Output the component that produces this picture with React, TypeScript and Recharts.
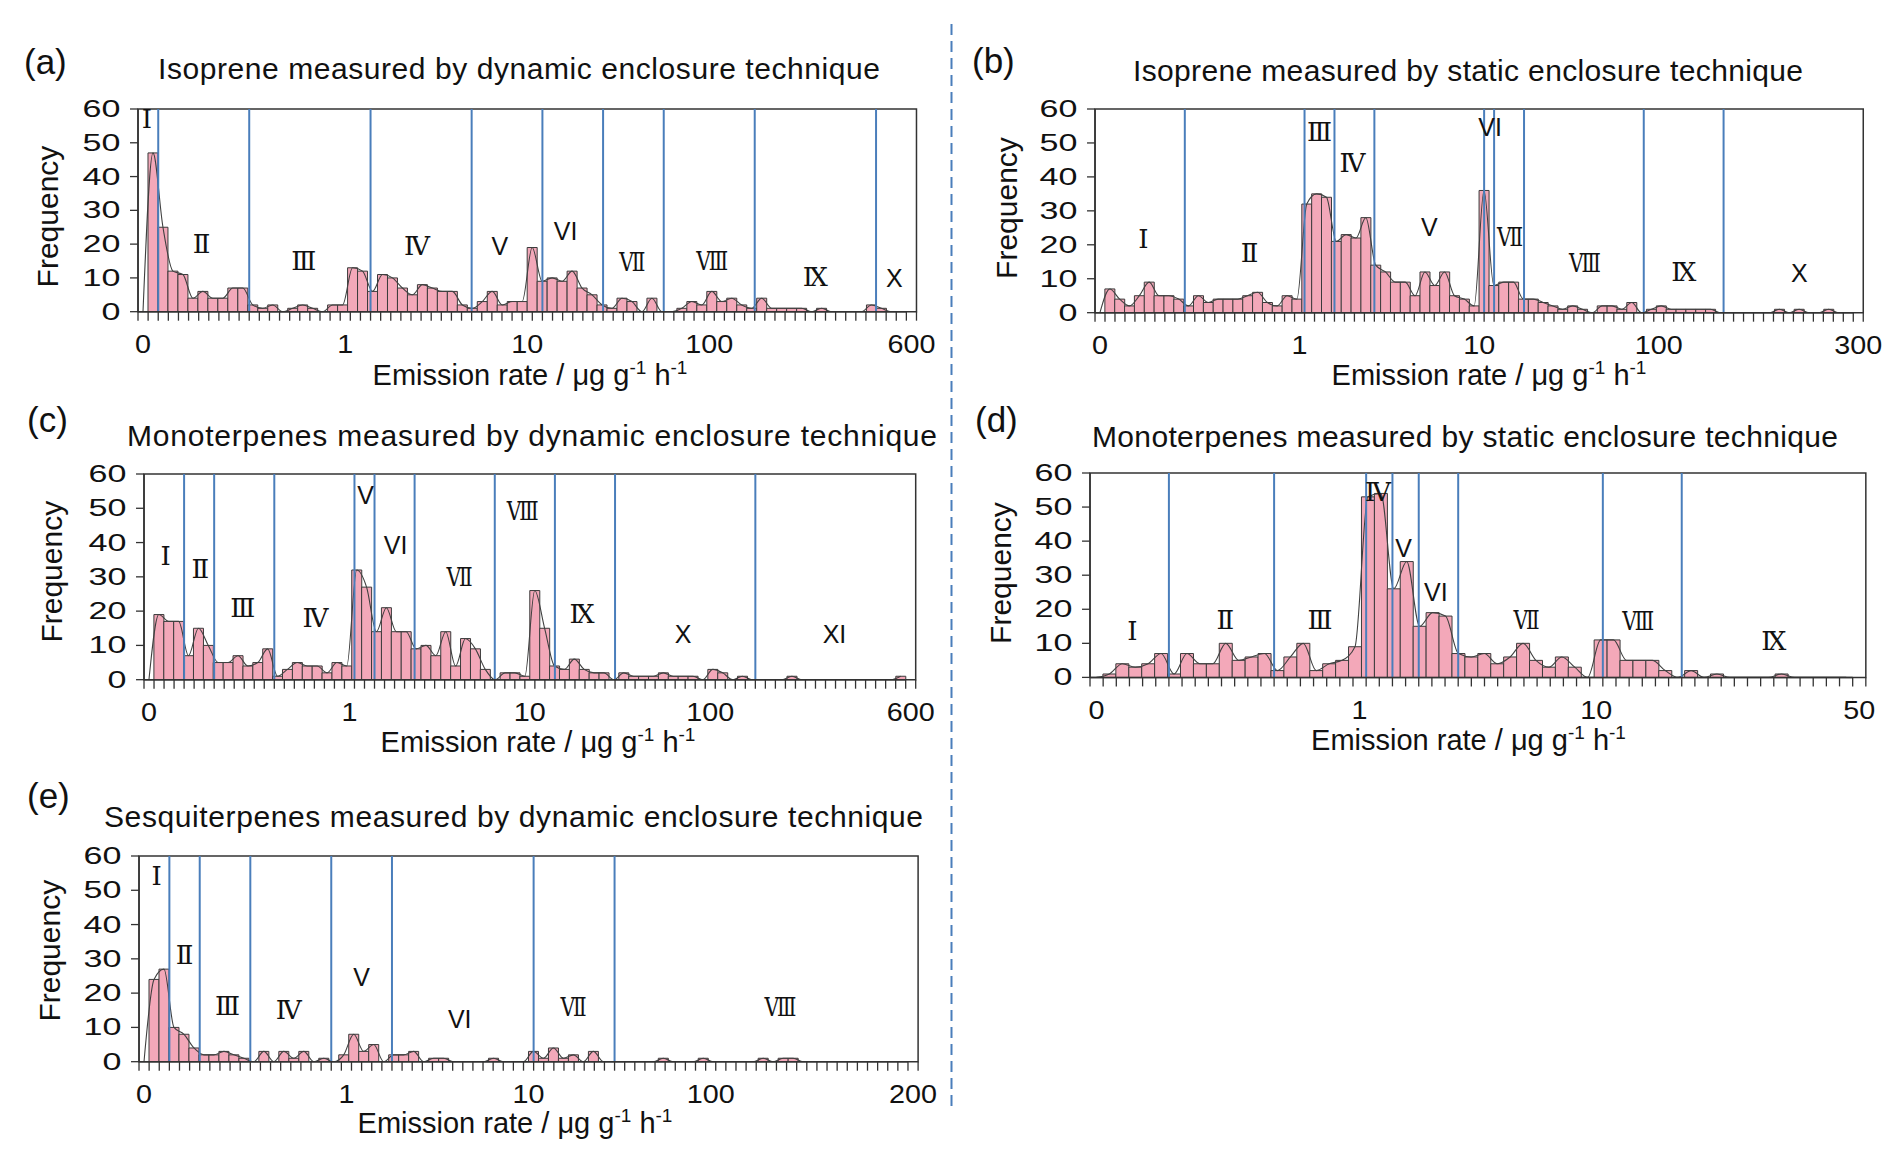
import React from 'react';
import {
  ComposedChart,
  Bar,
  Line,
  XAxis,
  YAxis,
  ReferenceLine,
  ReferenceDot,
  ReferenceArea,
} from 'recharts';

const FONT = '"Liberation Sans", Arial, sans-serif';
const SERIF = '"DejaVu Serif", "Liberation Serif", serif';
const INK = '#111';
const FRAME = '#333';
const BLUE = '#4A7EBB';
const PINK = '#F3A8B9';

// ---------- data: frequencies per bin ----------
const freqA = [0, 47, 25, 12, 11, 4, 6, 4, 4, 7, 7, 2, 1, 2, 0, 1, 2, 1, 0, 2, 2, 13, 12, 6, 11, 10, 7, 5, 8, 7, 6, 6, 2, 1, 3, 6, 2, 3, 3, 19, 9, 10, 9, 12, 7, 5, 2, 1, 4, 3, 0, 4, 0, 0, 1, 3, 2, 6, 3, 4, 2, 1, 4, 1, 1, 1, 1, 0, 1, 0, 0, 0, 0, 2, 1, 0, 0];
const freqB = [0, 7, 4, 2, 5, 9, 5, 5, 4, 2, 5, 3, 4, 4, 4, 5, 6, 3, 2, 5, 4, 32, 35, 34, 21, 23, 22, 28, 14, 12, 9, 9, 5, 12, 8, 12, 5, 4, 2, 36, 8, 9, 9, 4, 4, 3, 2, 1, 2, 1, 0, 2, 2, 1, 3, 0, 1, 2, 1, 1, 1, 1, 1, 0, 0, 0, 0, 0, 0, 1, 0, 1, 0, 0, 1, 0, 0];
const freqC = [0, 19, 17, 17, 7, 15, 10, 5, 5, 7, 4, 5, 9, 1, 3, 5, 4, 4, 2, 5, 4, 32, 27, 14, 21, 14, 14, 9, 10, 7, 14, 4, 12, 9, 3, 0, 2, 2, 1, 26, 15, 4, 3, 6, 3, 2, 2, 0, 2, 1, 1, 1, 2, 1, 1, 1, 0, 3, 2, 0, 1, 0, 0, 0, 0, 1, 0, 0, 0, 0, 0, 0, 0, 0, 0, 0, 1];
const freqD = [0, 1, 4, 3, 4, 7, 1, 7, 4, 4, 10, 5, 6, 7, 2, 6, 10, 2, 4, 5, 9, 53, 54, 26, 34, 15, 19, 18, 7, 6, 7, 4, 6, 10, 5, 3, 6, 3, 0, 11, 11, 5, 5, 5, 2, 0, 2, 0, 1, 0, 0, 0, 0, 1, 0, 0, 0, 0, 0];
const freqE = [0, 24, 27, 10, 8, 4, 2, 2, 3, 2, 1, 0, 3, 0, 3, 1, 3, 0, 1, 0, 2, 8, 3, 5, 0, 2, 2, 3, 0, 1, 1, 0, 0, 0, 0, 1, 0, 0, 0, 3, 1, 4, 1, 2, 0, 3, 0, 0, 0, 0, 0, 0, 1, 0, 0, 0, 1, 0, 0, 0, 0, 0, 1, 0, 1, 1, 0, 0, 0, 0, 0, 0, 0, 0, 0, 0, 0];

// ---------- group boundaries (bin edges) ----------
const groupEdgesA = [2, 11, 23, 33, 40, 46, 52, 61, 73];
const groupEdgesB = [9, 21, 24, 28, 39, 40, 43, 55, 63];
const groupEdgesC = [4, 7, 13, 21, 23, 27, 35, 41, 47, 61];
const groupEdgesD = [6, 14, 21, 23, 25, 28, 39, 45];
const groupEdgesE = [3, 6, 11, 19, 25, 39, 47];

// ---------- group labels (roman numerals) with anchor in data space ----------
const romanA = ['Ⅰ', 'Ⅱ', 'Ⅲ', 'Ⅳ', 'V', 'VI', 'Ⅶ', 'Ⅷ', 'Ⅸ', 'X'];
const romanXA = [0.87, 6.28, 16.4, 27.6, 35.8, 42.3, 48.9, 56.8, 67, 74.8];
const romanYA = [57, 20, 15, 19.4, 19.4, 24, 14.7, 15.2, 10.3, 10];

const romanB = ['Ⅰ', 'Ⅱ', 'Ⅲ', 'Ⅳ', 'V', 'VI', 'Ⅶ', 'Ⅷ', 'Ⅸ', 'X'];
const romanXB = [4.84, 15.5, 22.5, 25.8, 33.5, 39.6, 41.6, 49.1, 59, 70.6];
const romanYB = [21.6, 17.5, 53.3, 44.2, 25.3, 54.6, 22.4, 14.7, 11.9, 11.6];

const romanC = ['Ⅰ', 'Ⅱ', 'Ⅲ', 'Ⅳ', 'V', 'VI', 'Ⅶ', 'Ⅷ', 'Ⅸ', 'X', 'XI'];
const romanXC = [2.16, 5.63, 9.85, 17.1, 22.1, 25.1, 31.5, 37.8, 43.7, 53.8, 68.9];
const romanYC = [36.2, 32.4, 20.9, 18, 54, 39.2, 30.1, 49.3, 19.3, 13.3, 13.3];

const romanD = ['Ⅰ', 'Ⅱ', 'Ⅲ', 'Ⅳ', 'V', 'VI', 'Ⅶ', 'Ⅷ', 'Ⅸ'];
const romanXD = [3.22, 10.3, 17.5, 21.9, 23.85, 26.3, 33.2, 41.7, 52];
const romanYD = [13.7, 16.9, 16.9, 54.4, 38, 25.1, 16.9, 16.6, 10.8];

const romanE = ['Ⅰ', 'Ⅱ', 'Ⅲ', 'Ⅳ', 'V', 'VI', 'Ⅶ', 'Ⅷ'];
const romanXE = [1.74, 4.5, 8.75, 14.8, 22, 31.7, 42.96, 63.4];
const romanYE = [54.2, 31.1, 16.2, 15.1, 24.8, 12.4, 16, 16];

// ---------- x tick labels and the bins they sit under ----------
const xTickTextA = ['0', '1', '10', '100', '600'];
const xTickTextB = ['0', '1', '10', '100', '300'];
const xTickTextC = ['0', '1', '10', '100', '600'];
const xTickTextD = ['0', '1', '10', '50'];
const xTickTextE = ['0', '1', '10', '100', '200'];
const xTickBin77 = [0, 20, 38, 56, 76];
const xTickBinD = [0, 20, 38, 58];

const yTicks = [0, 10, 20, 30, 40, 50, 60];

// ---------- layout ----------
const panels = [
  { values: freqA, edges: groupEdgesA, roman: romanA, rx: romanXA, ry: romanYA, tt: xTickTextA, tb: xTickBin77, box: { left: 138.3, top: 109, width: 768.4, height: 202.7 } },
  { values: freqB, edges: groupEdgesB, roman: romanB, rx: romanXB, ry: romanYB, tt: xTickTextB, tb: xTickBin77, box: { left: 1095, top: 109, width: 758.3, height: 203.7 } },
  { values: freqC, edges: groupEdgesC, roman: romanC, rx: romanXC, ry: romanYC, tt: xTickTextC, tb: xTickBin77, box: { left: 144.3, top: 474.3, width: 761.7, height: 205.7 } },
  { values: freqD, edges: groupEdgesD, roman: romanD, rx: romanXD, ry: romanYD, tt: xTickTextD, tb: xTickBinD, box: { left: 1090, top: 473.3, width: 762.7, height: 204.4 } },
  { values: freqE, edges: groupEdgesE, roman: romanE, rx: romanXE, ry: romanYE, tt: xTickTextE, tb: xTickBin77, box: { left: 139.3, top: 856, width: 769, height: 205.7 } },
];

const letters = [
  { t: '(a)', x: 24, y: 74 },
  { t: '(b)', x: 972, y: 73 },
  { t: '(c)', x: 27, y: 432 },
  { t: '(d)', x: 975, y: 432 },
  { t: '(e)', x: 27, y: 808 },
];

const titles = [
  { t: 'Isoprene measured by dynamic enclosure technique', x: 158, y: 79, len: 722 },
  { t: 'Isoprene measured by static enclosure technique', x: 1133, y: 80.5, len: 670 },
  { t: 'Monoterpenes measured by dynamic enclosure technique', x: 127, y: 445.5, len: 810 },
  { t: 'Monoterpenes measured by static enclosure technique', x: 1092, y: 446.5, len: 746 },
  { t: 'Sesquiterpenes measured by dynamic enclosure technique', x: 104, y: 827, len: 819 },
];

const yTitles = [
  { x: 58.2, y: 216.5 },
  { x: 1016.5, y: 208 },
  { x: 61.5, y: 571.7 },
  { x: 1010.8, y: 573 },
  { x: 59.8, y: 950.7 },
];

const xTitles = [
  { x: 530, y: 385 },
  { x: 1489, y: 385 },
  { x: 538, y: 751.5 },
  { x: 1468.5, y: 750 },
  { x: 515, y: 1133 },
];

const ML = 90;
const MT = 20;
const MR = 50;
const MB = 60;

function YTick(props: any) {
  const { x, y, payload } = props;
  return (
    <text
      x={x}
      y={y}
      textAnchor="end"
      dominantBaseline="central"
      fontSize={23.5}
      fontFamily={FONT}
      fill={INK}
      transform={`translate(${x} ${y}) scale(1.45 1) translate(${-x} ${-y})`}
    >
      {payload.value}
    </text>
  );
}

function makeEdgeTick(labelMap: Map<number, string>) {
  return (props: any) => {
    const { x, y, payload } = props;
    const v = payload.value;
    if (Number.isInteger(v)) {
      return <line x1={x} y1={y} x2={x} y2={y + 9} stroke={FRAME} strokeWidth={1.3} />;
    }
    const label = labelMap.get(v) ?? '';
    return (
      <text
        x={x}
        y={y + 41.5}
        textAnchor="middle"
        fontSize={25}
        fontFamily={FONT}
        fill={INK}
        transform={`translate(${x} 0) scale(1.15 1) translate(${-x} 0)`}
      >
        {label}
      </text>
    );
  };
}

function makeRomanShape(text: string) {
  const unicode = /[\u2160-\u2188]/.test(text);
  const narrow = text === 'Ⅶ' || text === 'Ⅷ';
  return (props: any) => (
    <text
      x={props.cx}
      y={props.cy}
      textAnchor="middle"
      dominantBaseline="central"
      fontSize={unicode ? 26 : 25}
      fontFamily={unicode ? SERIF : FONT}
      fill={INK}
      transform={narrow ? `translate(${props.cx} 0) scale(0.78 1) translate(${-props.cx} 0)` : undefined}
    >
      {text}
    </text>
  );
}

function Panel(p: any) {
  const { values, edges, roman, rx, ry, tt, tb, box } = p;
  const n = values.length;
  const data = values.map((v: number, i: number) => ({ i, v }));
  const edgeTicks: number[] = [];
  for (let k = 0; k <= n; k++) edgeTicks.push(k);
  tb.forEach((b: number) => edgeTicks.push(b + 0.5));
  edgeTicks.sort((a, b) => a - b);
  const labelMap = new Map<number, string>();
  tb.forEach((b: number, j: number) => labelMap.set(b + 0.5, tt[j]));

  return (
    <div style={{ position: 'absolute', left: box.left - ML, top: box.top - MT }}>
      <ComposedChart
        width={box.width + ML + MR}
        height={box.height + MT + MB}
        data={data}
        margin={{ top: MT, right: MR, left: 0, bottom: 0 }}
        barCategoryGap={0}
        barGap={0}
      >
        <XAxis
          xAxisId="edge"
          type="number"
          domain={[0, n]}
          allowDataOverflow
          ticks={edgeTicks}
          interval={0}
          height={MB}
          tickSize={0}
          tickMargin={0}
          tickLine={false}
          axisLine={{ stroke: FRAME, strokeWidth: 1.5 }}
          tick={makeEdgeTick(labelMap)}
        />
        <XAxis xAxisId="cat" dataKey="i" type="category" hide height={0} />
        <YAxis
          type="number"
          domain={[0, 60]}
          allowDataOverflow
          ticks={yTicks}
          interval={0}
          width={ML}
          tickSize={8}
          tickMargin={9.6}
          tickLine={{ stroke: FRAME, strokeWidth: 1.3 }}
          axisLine={{ stroke: FRAME, strokeWidth: 1.5 }}
          tick={<YTick />}
        />
        <ReferenceArea
          xAxisId="edge"
          x1={0}
          x2={n}
          y1={0}
          y2={60}
          fill="none"
          stroke={FRAME}
          strokeWidth={1.5}
          ifOverflow="visible"
        />
        <Bar
          xAxisId="cat"
          dataKey="v"
          fill={PINK}
          stroke="#3a3a3a"
          strokeWidth={1}
          isAnimationActive={false}
        />
        <Line
          xAxisId="cat"
          dataKey="v"
          type="monotone"
          stroke="#404040"
          strokeWidth={1.1}
          dot={false}
          activeDot={false}
          isAnimationActive={false}
        />
        {edges.map((e: number) => (
          <ReferenceLine key={`e${e}`} xAxisId="edge" x={e} stroke={BLUE} strokeWidth={2} ifOverflow="visible" />
        ))}
        {roman.map((r: string, j: number) => (
          <ReferenceDot
            key={`r${j}`}
            xAxisId="edge"
            x={rx[j]}
            y={ry[j]}
            r={0}
            ifOverflow="visible"
            shape={makeRomanShape(r)}
          />
        ))}
      </ComposedChart>
    </div>
  );
}

export default function App() {
  return (
    <div style={{ position: 'absolute', left: 0, top: 0, width: 1892, height: 1164, background: '#fff', fontFamily: FONT }}>
      <svg width={1892} height={1164} style={{ position: 'absolute', left: 0, top: 0 }}>
        {letters.map((l) => (
          <text key={l.t} x={l.x} y={l.y} fontSize={35} fontFamily={FONT} fill={INK}>
            {l.t}
          </text>
        ))}
        {titles.map((t) => (
          <text key={t.t} x={t.x} y={t.y} fontSize={30} fontFamily={FONT} fill={INK} textLength={t.len} lengthAdjust="spacing">
            {t.t}
          </text>
        ))}
        {yTitles.map((t, j) => (
          <text
            key={`yt${j}`}
            transform={`translate(${t.x} ${t.y}) rotate(-90)`}
            textAnchor="middle"
            fontSize={30}
            fontFamily={FONT}
            fill={INK}
          >
            Frequency
          </text>
        ))}
        {xTitles.map((t, j) => (
          <text key={`xt${j}`} x={t.x} y={t.y} textAnchor="middle" fontSize={29} fontFamily={FONT} fill={INK}>
            Emission rate / μg g
            <tspan dy={-11} fontSize={19}>-1</tspan>
            <tspan dy={11}> h</tspan>
            <tspan dy={-11} fontSize={19}>-1</tspan>
          </text>
        ))}
        <line x1={951.5} y1={24} x2={951.5} y2={1106} stroke={BLUE} strokeWidth={2} strokeDasharray="11 6" />
      </svg>
      {panels.map((p, j) => (
        <Panel key={j} {...p} />
      ))}
    </div>
  );
}
